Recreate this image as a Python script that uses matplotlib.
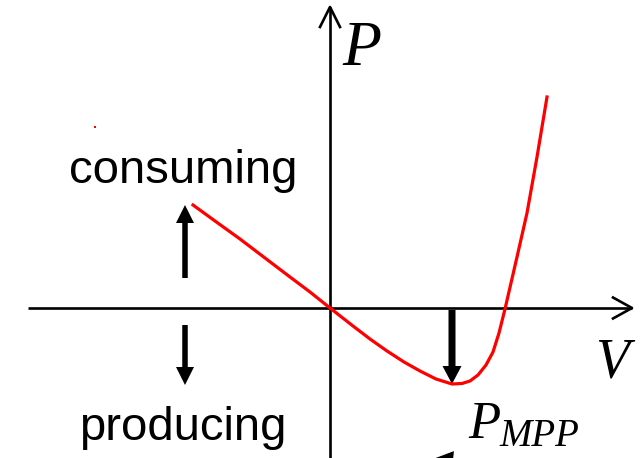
import matplotlib
matplotlib.use('Agg')
import matplotlib.pyplot as plt
import numpy as np

# P-V curve of a solar cell (origin at axis crossing)
V = [-1.37, -1.15, -0.90, -0.65, -0.40, -0.20, 0.00, 0.23, 0.40, 0.57,
     0.74, 0.90, 1.06, 1.22, 1.32, 1.40, 1.48, 1.56, 1.63, 1.69,
     1.75, 1.81, 1.87, 1.92, 1.97, 2.02, 2.07, 2.12, 2.17]
P = [1.03, 0.87, 0.69, 0.50, 0.31, 0.16, 0.00, -0.18, -0.31, -0.43,
     -0.54, -0.63, -0.71, -0.76, -0.755, -0.73, -0.67, -0.57, -0.44, -0.25,
     -0.01, 0.25, 0.51, 0.73, 0.95, 1.23, 1.51, 1.81, 2.11]

labels = {'up': 'consuming', 'down': 'producing'}

fig = plt.figure(figsize=(6.43, 4.58), dpi=100)
ax = fig.add_axes([0, 0, 1, 1])
ax.set_xlim(-3.30, 3.13)
ax.set_ylim(-1.50, 3.08)
ax.axis('off')

# axes with open arrow heads
ax.plot([-3.02, 3.02], [0, 0], color='black', lw=1.9, solid_capstyle='butt')
ax.plot([2.83, 3.02, 2.83], [0.105, 0, -0.105], color='black', lw=1.9)
ax.plot([0, 0], [-1.5, 3.01], color='black', lw=1.9, solid_capstyle='butt')
ax.plot([-0.10, 0, 0.10], [2.81, 3.01, 2.81], color='black', lw=1.9)

# curve
ax.plot(V, P, color='red', lw=2.3, solid_joinstyle='round')

# maximum power point arrow
i_mpp = int(np.argmin(P))
ax.arrow(V[i_mpp], -0.02, 0, P[i_mpp] + 0.02, width=0.07, head_width=0.19,
         head_length=0.18, length_includes_head=True, color='black', lw=0)

# consuming / producing arrows
ax.arrow(-1.45, 0.30, 0, 0.73, width=0.055, head_width=0.18,
         head_length=0.18, length_includes_head=True, color='black', lw=0)
ax.arrow(-1.45, -0.17, 0, -0.60, width=0.055, head_width=0.18,
         head_length=0.18, length_includes_head=True, color='black', lw=0)

ax.text(-1.465, 1.25, labels['up'], fontsize=34, family='Liberation Sans',
        ha='center', va='baseline')
ax.text(-1.475, -1.32, labels['down'], fontsize=34, family='Liberation Sans',
        ha='center', va='baseline')

# axis labels
ax.text(0.12, 2.43, 'P', fontsize=46, family='Liberation Serif',
        style='italic', ha='left', va='baseline')
ax.text(2.65, -0.69, 'V', fontsize=40, family='Liberation Serif',
        style='italic', ha='left', va='baseline')
ax.text(1.38, -1.30, 'P', fontsize=38, family='Liberation Serif',
        style='italic', ha='left', va='baseline')
ax.text(1.69, -1.385, 'MPP', fontsize=28, family='Liberation Serif',
        style='italic', ha='left', va='baseline')

# partly visible pointer at the bottom edge
ax.arrow(1.90, -1.60, -0.87, 0.09, width=0.05, head_width=0.20,
         head_length=0.20, length_includes_head=True, color='black', lw=0,
         clip_on=True)

# stray red pixel
ax.plot([-2.35], [1.81], 's', color='red', markersize=1.5, mew=0)

fig.savefig('out.png', dpi=100, facecolor='white')
